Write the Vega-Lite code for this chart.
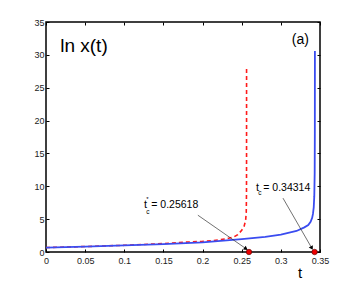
{
  "$schema": "https://vega.github.io/schema/vega-lite/v6.json",
  "width": 274,
  "height": 230,
  "autosize": {"type": "none"},
  "padding": {"left": 46, "top": 22, "right": 34, "bottom": 33},
  "background": "white",
  "config": {
    "view": {"stroke": "black", "strokeWidth": 1.5},
    "font": "Liberation Sans"
  },
  "datasets": {
    "blue": [
      {"t": 0, "v": 0.68}, {"t": 0.05, "v": 0.83}, {"t": 0.1, "v": 1.0}, {"t": 0.15, "v": 1.2},
      {"t": 0.2, "v": 1.45}, {"t": 0.25, "v": 1.95}, {"t": 0.28, "v": 2.3}, {"t": 0.3, "v": 2.65},
      {"t": 0.32, "v": 3.2}, {"t": 0.33, "v": 3.75}, {"t": 0.335, "v": 4.1}, {"t": 0.338, "v": 4.6},
      {"t": 0.34, "v": 5.2}, {"t": 0.341, "v": 5.8}, {"t": 0.342, "v": 6.8}, {"t": 0.3427, "v": 8.5},
      {"t": 0.3432, "v": 12}, {"t": 0.3434, "v": 18}, {"t": 0.3435, "v": 30.6}
    ],
    "red": [
      {"t": 0, "v": 0.68}, {"t": 0.05, "v": 0.83}, {"t": 0.1, "v": 1.02}, {"t": 0.15, "v": 1.28},
      {"t": 0.17, "v": 1.45}, {"t": 0.2, "v": 1.62}, {"t": 0.214, "v": 1.75}, {"t": 0.23, "v": 2.0},
      {"t": 0.24, "v": 2.3}, {"t": 0.245, "v": 2.65}, {"t": 0.25, "v": 3.3}, {"t": 0.253, "v": 3.9},
      {"t": 0.255, "v": 4.8}, {"t": 0.2558, "v": 6}, {"t": 0.2561, "v": 9}, {"t": 0.25618, "v": 14},
      {"t": 0.2562, "v": 28.3}
    ],
    "dots": [{"t": 0.2593, "v": 0}, {"t": 0.3431, "v": 0}],
    "arrows": [
      {"t1": 0.194, "v1": 5.6, "t2": 0.2555, "v2": 0.5, "ang": 125},
      {"t1": 0.3027, "v1": 8.2, "t2": 0.3395, "v2": 0.6, "ang": 151}
    ],
    "labels": [
      {"t": 0.0485, "v": 31.4, "txt": "ln x(t)", "sz": 19},
      {"t": 0.325, "v": 32.3, "txt": "(a)", "sz": 14},
      {"t": 0.3245, "v": -3.2, "txt": "t", "sz": 15}
    ],
    "ann": [
      {"t": 0.1252, "v": 7.08, "txt": "t", "sz": 11},
      {"t": 0.128, "v": 6.1, "txt": "c", "sz": 6.5},
      {"t": 0.128, "v": 8.1, "txt": "*", "sz": 6},
      {"t": 0.1345, "v": 7.08, "txt": "= 0.25618", "sz": 10.5},
      {"t": 0.2682, "v": 9.7, "txt": "t", "sz": 11},
      {"t": 0.2711, "v": 8.93, "txt": "c", "sz": 6.5},
      {"t": 0.2775, "v": 9.7, "txt": "= 0.34314", "sz": 10.5}
    ]
  },
  "layer": [
    {
      "data": {"name": "red"},
      "mark": {"type": "line", "color": "#ff1a1a", "strokeWidth": 1.6, "strokeDash": [4, 3]},
      "encoding": {
        "x": {"field": "t", "type": "quantitative", "scale": {"domain": [0, 0.35], "nice": false},
          "axis": {"values": [0, 0.05, 0.1, 0.15, 0.2, 0.25, 0.3, 0.35], "format": "~g", "title": null, "grid": false,
            "domain": false, "tickSize": -3, "tickColor": "black", "labelFontSize": 9, "labelColor": "#222", "labelPadding": 7, "labelFlush": false}},
        "y": {"field": "v", "type": "quantitative", "scale": {"domain": [0, 35], "nice": false},
          "axis": {"values": [0, 5, 10, 15, 20, 25, 30, 35], "title": null, "grid": false,
            "domain": false, "tickSize": -3, "tickColor": "black", "labelFontSize": 9, "labelColor": "#222", "labelPadding": 5, "labelFlush": false}}
      }
    },
    {
      "data": {"name": "blue"},
      "mark": {"type": "line", "color": "#3a4cf0", "strokeWidth": 1.8},
      "encoding": {
        "x": {"field": "t", "type": "quantitative",
          "axis": {"values": [0, 0.05, 0.1, 0.15, 0.2, 0.25, 0.3, 0.35], "labels": false, "title": null, "grid": false,
            "domain": false, "tickSize": -3, "tickColor": "black"}},
        "y": {"field": "v", "type": "quantitative",
          "axis": {"values": [0, 5, 10, 15, 20, 25, 30, 35], "labels": false, "title": null, "grid": false,
            "domain": false, "tickSize": -3, "tickColor": "black"}}
      }
    },
    {
      "data": {"name": "arrows"},
      "mark": {"type": "rule", "color": "#333", "strokeWidth": 0.7},
      "encoding": {
        "x": {"field": "t1", "type": "quantitative", "axis": null},
        "y": {"field": "v1", "type": "quantitative", "axis": null},
        "x2": {"field": "t2"},
        "y2": {"field": "v2"}
      }
    },
    {
      "data": {"name": "arrows"},
      "mark": {"type": "point", "shape": "triangle-up", "filled": true, "color": "black", "size": 22, "opacity": 1},
      "encoding": {
        "x": {"field": "t2", "type": "quantitative", "axis": null},
        "y": {"field": "v2", "type": "quantitative", "axis": null},
        "angle": {"field": "ang", "type": "quantitative", "scale": null}
      }
    },
    {
      "data": {"name": "dots"},
      "mark": {"type": "point", "shape": "circle", "filled": true, "color": "#ee0000", "stroke": "#550000", "strokeWidth": 0.6, "size": 30, "opacity": 1, "clip": false},
      "encoding": {
        "x": {"field": "t", "type": "quantitative", "axis": null},
        "y": {"field": "v", "type": "quantitative", "axis": null}
      }
    },
    {
      "data": {"name": "labels"},
      "mark": {"type": "text", "color": "black", "baseline": "middle", "align": "center", "clip": false},
      "encoding": {
        "x": {"field": "t", "type": "quantitative", "axis": null},
        "y": {"field": "v", "type": "quantitative", "axis": null},
        "text": {"field": "txt"},
        "size": {"field": "sz", "type": "quantitative", "scale": null}
      }
    },
    {
      "data": {"name": "ann"},
      "mark": {"type": "text", "color": "black", "baseline": "middle", "align": "left"},
      "encoding": {
        "x": {"field": "t", "type": "quantitative", "axis": null},
        "y": {"field": "v", "type": "quantitative", "axis": null},
        "text": {"field": "txt"},
        "size": {"field": "sz", "type": "quantitative", "scale": null}
      }
    }
  ],
  "resolve": {"axis": {"x": "independent", "y": "independent"}}
}
